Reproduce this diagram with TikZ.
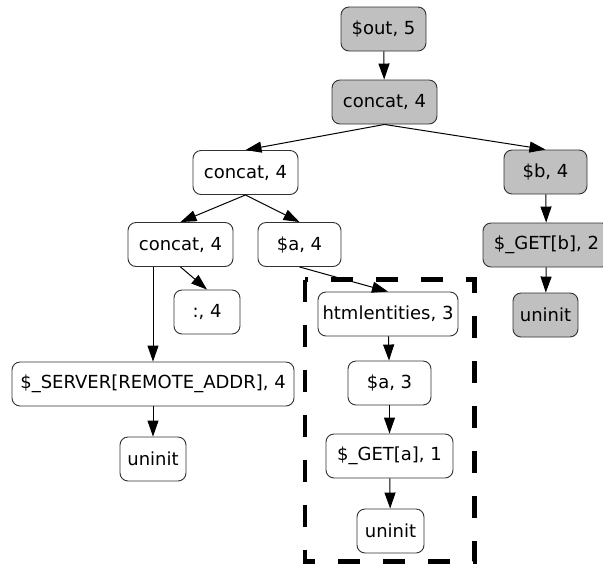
\documentclass[tikz,border=0pt]{standalone}
\usepackage{fontspec}
\setmainfont{DejaVu Sans}
\usetikzlibrary{arrows.meta}
\definecolor{nodegray}{RGB}{192,192,192}
\definecolor{edgegray}{RGB}{50,50,50}
\tikzset{
  box/.style={draw=edgegray, line width=0.9pt, rounded corners=8pt, fill=white,
    minimum height=44pt, inner xsep=3pt, inner ysep=0pt,
    font=\fontsize{18}{21}\selectfont, text=black},
  hot/.style={box, fill=nodegray},
  edge/.style={draw=black, line width=1pt, -{Triangle[length=16pt,width=11pt]}},
  region/.style={draw=black, line width=4.5pt, dash pattern=on 22pt off 23pt}
}
\begin{document}
\begin{tikzpicture}[x=1pt,y=-1pt]
\useasboundingbox (0,0) rectangle (603,566);

% tainted region around the htmlentities chain
\draw[region] (305,279.5) rectangle (474.5,561.5);

% nodes
\node[hot, minimum width=85pt]  (out)  at (383.5,29)  {\$out, 5};
\node[hot, minimum width=105pt] (ctop) at (384.5,102) {concat, 4};
\node[box, minimum width=105pt] (cmid) at (245.5,172.5) {concat, 4};
\node[hot, minimum width=83pt]  (b4)   at (545.5,172) {\$b, 4};
\node[box, minimum width=105pt] (clft) at (180.5,244.5) {concat, 4};
\node[box, minimum width=83pt]  (a4)   at (299.5,244.5) {\$a, 4};
\node[hot, minimum width=127pt] (getb) at (546.5,245) {\$\_GET[b], 2};
\node[box, minimum width=66pt]  (col)  at (207,312) {:, 4};
\node[hot, minimum width=65pt]  (unb)  at (545.5,315) {uninit};
\node[box, minimum width=140pt] (html) at (388,314) {htmlentities, 3};
\node[box, minimum width=282pt] (srv)  at (153,384) {\$\_SERVER[REMOTE\_ADDR], 4};
\node[box, minimum width=83pt]  (a3)   at (389.5,383) {\$a, 3};
\node[box, minimum width=66pt]  (uns)  at (153,459) {uninit};
\node[box, minimum width=127pt] (geta) at (389.5,456) {\$\_GET[a], 1};
\node[box, minimum width=67pt]  (una)  at (390.5,531) {uninit};

% connectors
\draw[edge] (out) -- (ctop);
\draw[edge] (ctop.south) -- (cmid.north);
\draw[edge] (ctop.south) -- (b4.north);
\draw[edge] (cmid.south) -- (clft.north);
\draw[edge] (cmid.south) -- (a4.north);
\draw[edge] (clft.south) -- (col.north);
\draw[edge] (srv.north |- clft.south) -- (srv.north);
\draw[edge] (a4.south) -- (html.north);
\draw[edge] (b4) -- (getb);
\draw[edge] (getb) -- (unb);
\draw[edge] (html) -- (a3);
\draw[edge] (a3) -- (geta);
\draw[edge] (geta) -- (una);
\draw[edge] (srv) -- (uns);
\end{tikzpicture}
\end{document}
